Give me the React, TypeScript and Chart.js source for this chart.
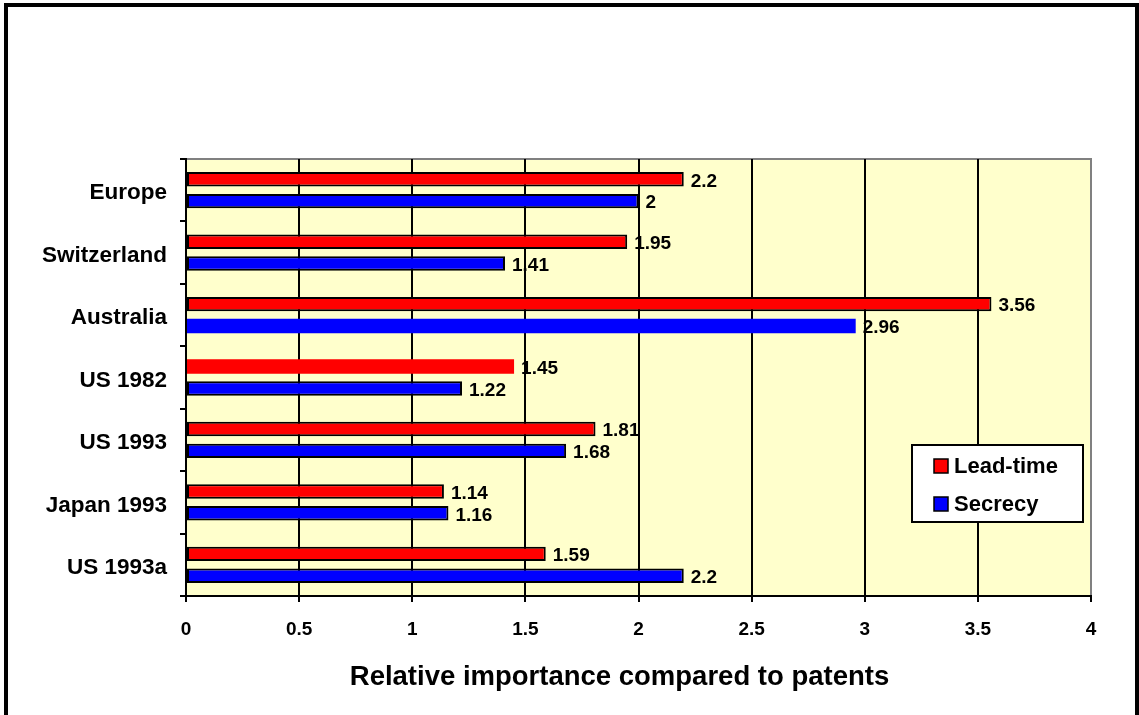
import React, { useEffect, useRef } from "react";
import { Chart, registerables } from "chart.js";

Chart.register(...registerables);

// Categories, top to bottom
const categories = ["Europe", "Switzerland", "Australia", "US 1982", "US 1993", "Japan 1993", "US 1993a"];

// Importance of each appropriation mechanism relative to patents
const leadTime = [2.2, 1.95, 3.56, 1.45, 1.81, 1.14, 1.59];
const secrecy = [2, 1.41, 2.96, 1.22, 1.68, 1.16, 2.2];

// Bars drawn without an outline (highlighted entries)
const leadTimeOutline = [2, 2, 2, 0, 2, 2, 2];
const secrecyOutline = [2, 2, 0, 2, 2, 2, 2];

const xTicks = [0, 0.5, 1, 1.5, 2, 2.5, 3, 3.5, 4];
const axisTitle = "Relative importance compared to patents";

const FONT = "'Liberation Sans', Arial, sans-serif";
const PLOT_BG = "#FFFFCC";

const plotBackground = {
  id: "plotBackground",
  beforeDraw(chart: any) {
    const { ctx, chartArea: a } = chart;
    ctx.save();
    ctx.fillStyle = PLOT_BG;
    ctx.fillRect(a.left, a.top, a.right - a.left, a.bottom - a.top);
    ctx.strokeStyle = "#808080";
    ctx.lineWidth = 2;
    ctx.beginPath();
    ctx.moveTo(a.left, a.top);
    ctx.lineTo(a.right, a.top);
    ctx.lineTo(a.right, a.bottom);
    ctx.stroke();
    ctx.restore();
  },
};

const valueLabels = {
  id: "valueLabels",
  afterDatasetsDraw(chart: any) {
    const { ctx } = chart;
    ctx.save();
    ctx.font = `bold 19px ${FONT}`;
    ctx.fillStyle = "#000";
    ctx.textAlign = "left";
    ctx.textBaseline = "middle";
    chart.data.datasets.forEach((ds: any, di: number) => {
      const meta = chart.getDatasetMeta(di);
      meta.data.forEach((el: any, i: number) => {
        ctx.fillText(String(ds.data[i]), el.x + 7, el.y + 2);
      });
    });
    ctx.restore();
  },
};

const boxLegend = {
  id: "boxLegend",
  afterDraw(chart: any) {
    const { ctx, chartArea: a } = chart;
    const w = 171;
    const h = 77;
    const x = a.right - 8 - w;
    const y = a.top + 286;
    ctx.save();
    ctx.fillStyle = "#fff";
    ctx.fillRect(x, y, w, h);
    ctx.strokeStyle = "#000";
    ctx.lineWidth = 2;
    ctx.strokeRect(x, y, w, h);
    ctx.font = `bold 22px ${FONT}`;
    ctx.textBaseline = "middle";
    ctx.textAlign = "left";
    chart.data.datasets.forEach((ds: any, i: number) => {
      const cy = y + 21 + i * 38;
      ctx.fillStyle = ds.backgroundColor;
      ctx.fillRect(x + 22, cy - 7, 14, 14);
      ctx.lineWidth = 1.5;
      ctx.strokeStyle = "#000";
      ctx.strokeRect(x + 22, cy - 7, 14, 14);
      ctx.fillStyle = "#000";
      ctx.fillText(ds.label, x + 42, cy + 1);
    });
    ctx.restore();
  },
};

const xAxisTitle = {
  id: "xAxisTitle",
  afterDraw(chart: any) {
    const { ctx, chartArea: a } = chart;
    ctx.save();
    ctx.font = `bold 27.5px ${FONT}`;
    ctx.fillStyle = "#000";
    ctx.textAlign = "center";
    ctx.textBaseline = "middle";
    ctx.fillText(axisTitle, (a.left + a.right) / 2 - 19, a.bottom + 81);
    ctx.restore();
  },
};

export default function App() {
  const canvasRef = useRef<HTMLCanvasElement>(null);

  useEffect(() => {
    const canvas = canvasRef.current;
    if (!canvas) return;
    const chart = new Chart(canvas, {
      type: "bar",
      data: {
        labels: categories,
        datasets: [
          {
            label: "Lead-time",
            data: leadTime,
            backgroundColor: "#FF0000",
            borderColor: "#000",
            borderWidth: leadTimeOutline,
            borderSkipped: false,
            categoryPercentage: 0.7,
            barPercentage: 0.66,
          },
          {
            label: "Secrecy",
            data: secrecy,
            backgroundColor: "#0000FF",
            borderColor: "#000",
            borderWidth: secrecyOutline,
            borderSkipped: false,
            categoryPercentage: 0.7,
            barPercentage: 0.66,
          },
        ],
      },
      options: {
        indexAxis: "y",
        responsive: false,
        animation: false,
        maintainAspectRatio: false,
        layout: { padding: { top: 159, right: 48, left: 0, bottom: 0 } },
        plugins: {
          legend: { display: false },
          title: { display: false },
          tooltip: { enabled: false },
        },
        scales: {
          x: {
            type: "linear",
            min: 0,
            max: 4,
            afterBuildTicks: (scale: any) => {
              scale.ticks = xTicks.map((v) => ({ value: v }));
            },
            afterFit: (scale: any) => {
              scale.height = 119;
            },
            grid: {
              color: (c: any) => (c.index === xTicks.length - 1 ? "#808080" : "#000"),
              tickColor: "#000",
              lineWidth: 2,
              tickLength: 6,
              drawOnChartArea: true,
            },
            border: { color: "#000", width: 2 },
            ticks: {
              color: "#000",
              font: { family: FONT, size: 19, weight: "bold" },
              padding: 16,
              maxRotation: 0,
              autoSkip: false,
              callback: (v: any) => String(v),
            },
          },
          y: {
            afterFit: (scale: any) => {
              scale.width = 186;
            },
            grid: {
              drawOnChartArea: false,
              color: "#000",
              lineWidth: 2,
              tickLength: 6,
              offset: true,
            },
            border: { color: "#000", width: 2 },
            ticks: {
              color: "#000",
              font: { family: FONT, size: 22.5, weight: "bold" },
              padding: 13,
              labelOffset: 3,
            },
          },
        },
      },
      plugins: [plotBackground, valueLabels, boxLegend, xAxisTitle],
    } as any);
    return () => chart.destroy();
  }, []);

  return (
    <div
      style={{
        position: "fixed",
        left: 0,
        top: 0,
        width: 1139,
        height: 715,
        overflow: "hidden",
        background: "#fff",
      }}
    >
      <div
        style={{
          position: "absolute",
          left: 4,
          top: 3,
          width: 1135,
          height: 730,
          boxSizing: "border-box",
          border: "4px solid #000",
        }}
      />
      <canvas
        ref={canvasRef}
        width={1139}
        height={715}
        style={{ position: "absolute", left: 0, top: 0, width: 1139, height: 715 }}
      />
    </div>
  );
}
